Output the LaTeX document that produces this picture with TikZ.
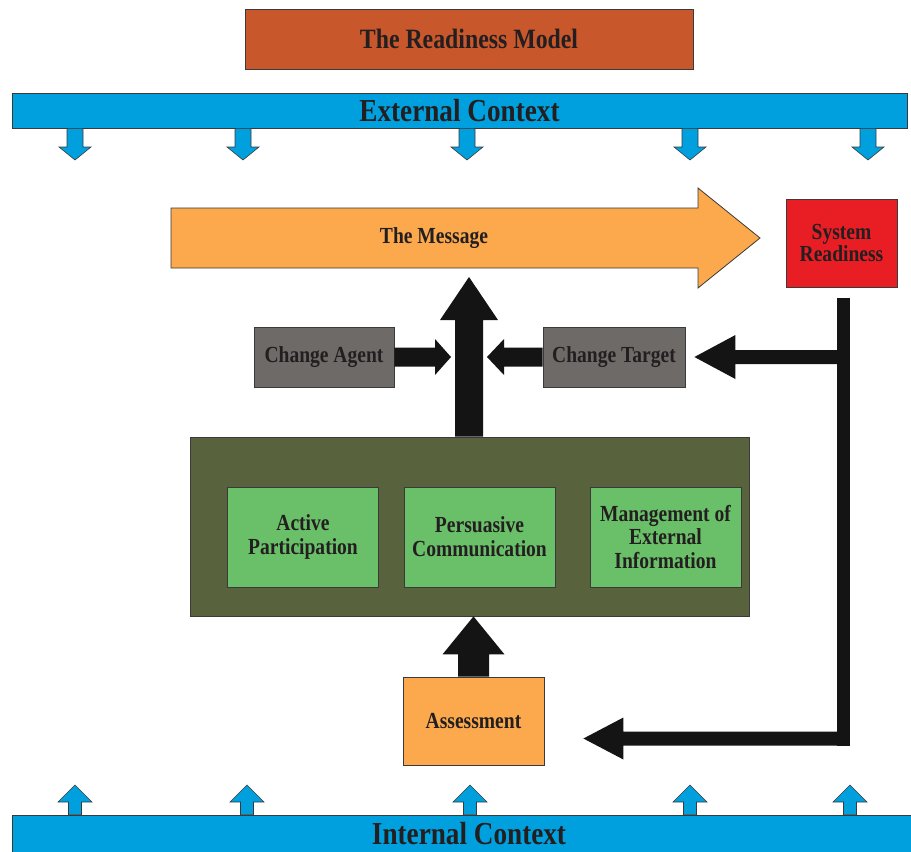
\documentclass[tikz,border=0pt]{standalone}
\usepackage{fontspec}
\setmainfont{Liberation Serif}[FakeStretch=0.85]
\usetikzlibrary{calc}
\definecolor{titlec}{HTML}{C8572B}
\definecolor{bluec}{HTML}{00A0DE}
\definecolor{orangec}{HTML}{FBA94C}
\definecolor{redc}{HTML}{E91E25}
\definecolor{greyc}{HTML}{6D6A67}
\definecolor{darkgreen}{HTML}{58623C}
\definecolor{lightgreen}{HTML}{6ABF69}
\definecolor{txt}{HTML}{231F20}
\definecolor{edge}{HTML}{3A3A3A}
\tikzset{
  box/.style={draw=edge, line width=0.8pt, align=center, inner sep=0pt, text=txt,
    font=\fontsize{23}{24}\selectfont\bfseries},
  bar/.style={draw=edge, line width=0.8pt, fill=bluec, inner sep=0pt, text=txt,
    font=\fontsize{32}{34}\selectfont\bfseries},
  bluearr/.style={fill=bluec, draw=edge, line width=0.6pt},
  blackarr/.style={fill=black!92},
}
% block arrows: style, tail, tip, shaft half-width, head half-width, head length
\newcommand\arrR[6]{\path[#1] let \p1=(#2), \p2=(#3) in (\x1,\y1+#4) -- (\x2-#6,\y1+#4) -- (\x2-#6,\y1+#5) -- (\x2,\y1) -- (\x2-#6,\y1-#5) -- (\x2-#6,\y1-#4) -- (\x1,\y1-#4) -- cycle;}
\newcommand\arrL[6]{\path[#1] let \p1=(#2), \p2=(#3) in (\x1,\y1+#4) -- (\x2+#6,\y1+#4) -- (\x2+#6,\y1+#5) -- (\x2,\y1) -- (\x2+#6,\y1-#5) -- (\x2+#6,\y1-#4) -- (\x1,\y1-#4) -- cycle;}
\newcommand\arrU[6]{\path[#1] let \p1=(#2), \p2=(#3) in (\x1-#4,\y1) -- (\x1-#4,\y2-#6) -- (\x1-#5,\y2-#6) -- (\x1,\y2) -- (\x1+#5,\y2-#6) -- (\x1+#4,\y2-#6) -- (\x1+#4,\y1) -- cycle;}
\newcommand\arrD[6]{\path[#1] let \p1=(#2), \p2=(#3) in (\x1-#4,\y1) -- (\x1-#4,\y2+#6) -- (\x1-#5,\y2+#6) -- (\x1,\y2) -- (\x1+#5,\y2+#6) -- (\x1+#4,\y2+#6) -- (\x1+#4,\y1) -- cycle;}
\begin{document}
\begin{tikzpicture}[x=1pt,y=1pt]
\useasboundingbox[fill=white] (0,0) rectangle (911,-852);

% title
\node[box, fill=titlec, minimum width=448pt, minimum height=60pt,
  font=\fontsize{28}{30}\selectfont\bfseries] (title) at (469,-39) {The Readiness Model};

% external context bar and arrows
\foreach \x [count=\i] in {75,243,467,690,868} {
  \coordinate (ed\i) at (\x,-160);
}
\node[bar, minimum width=895pt, minimum height=35pt] (ext) at (459.5,-110.5) {External Context};
\foreach \i in {1,...,5} {
  \arrD{bluearr}{ed\i |- ext.south}{ed\i}{8pt}{16pt}{13pt}
}

% internal context bar and arrows
\node[bar, minimum width=900pt, minimum height=38pt] (int) at (462,-834) {\hspace*{14pt}Internal Context};
\foreach \x [count=\i] in {75,247,470,690,850} {
  \coordinate (iu\i) at (\x,-785);
  \arrU{bluearr}{iu\i |- int.north}{iu\i}{6.5pt}{17pt}{17pt}
}

% the message
\path[fill=orangec, draw=edge, line width=0.8pt]
  (171,-208) -- (698,-208) -- (698,-188) -- (760,-238) -- (698,-288) -- (698,-268) -- (171,-268) -- cycle;
\node[box, draw=none] (msg) at (434,-238) {The Message};

% system readiness
\node[box, fill=redc, minimum width=111pt, minimum height=88pt,
  font=\fontsize{23}{22}\selectfont\bfseries] (sys) at (841.5,-243) {System\\Readiness};

% change agent / target
\node[box, fill=greyc, minimum width=140pt, minimum height=60pt] (agent) at (324,-357) {Change Agent};
\node[box, fill=greyc, minimum width=142pt, minimum height=60pt] (target) at (614,-357) {Change Target};

% green block
\node[box, fill=darkgreen, minimum width=559pt, minimum height=179pt] (green) at (469.5,-526.5) {};
\node[box, fill=lightgreen, minimum width=151pt, minimum height=100pt] (active) at (303,-537) {Active\\Participation};
\node[box, fill=lightgreen, minimum width=151pt, minimum height=100pt] (pers) at (479.5,-537) {Persuasive\\Communication};
\node[box, fill=lightgreen, minimum width=151pt, minimum height=100pt,
  font=\fontsize{23}{23.5}\selectfont\bfseries] (mgmt) at (665.5,-537) {Management of\\External\\Information};

% assessment
\node[box, fill=orangec, minimum width=141pt, minimum height=88pt] (assess) at (473.5,-721) {Assessment};

% central arrow
\coordinate (cen) at (469,-277);
\arrU{blackarr}{cen |- green.north}{cen}{14pt}{29pt}{43pt}
\arrR{blackarr}{agent.east}{$(agent.east -| cen)+(-18,0)$}{9.5pt}{18pt}{16pt}
\arrL{blackarr}{target.west}{$(target.west -| cen)+(18,0)$}{9.5pt}{18pt}{17pt}

% assessment arrow
\arrU{blackarr}{assess.north}{assess.north |- green.south}{15.5pt}{31pt}{38pt}

% feedback bar
\coordinate (vtop) at ($(sys.south)+(2,-11)$);
\coordinate (vbot) at (vtop |- 0,-746);
\fill[black!92] ($(vtop)+(-6.5,0)$) rectangle ($(vbot)+(6.5,0)$);
\arrL{blackarr}{vtop |- target.east}{$(target.east)+(9,0)$}{7pt}{22pt}{41pt}
\coordinate (rt) at ($(vbot)+(0,7.5)$);
\arrL{blackarr}{rt}{$(assess.east |- rt)+(39,0)$}{7pt}{21pt}{40pt}
\end{tikzpicture}
\end{document}
